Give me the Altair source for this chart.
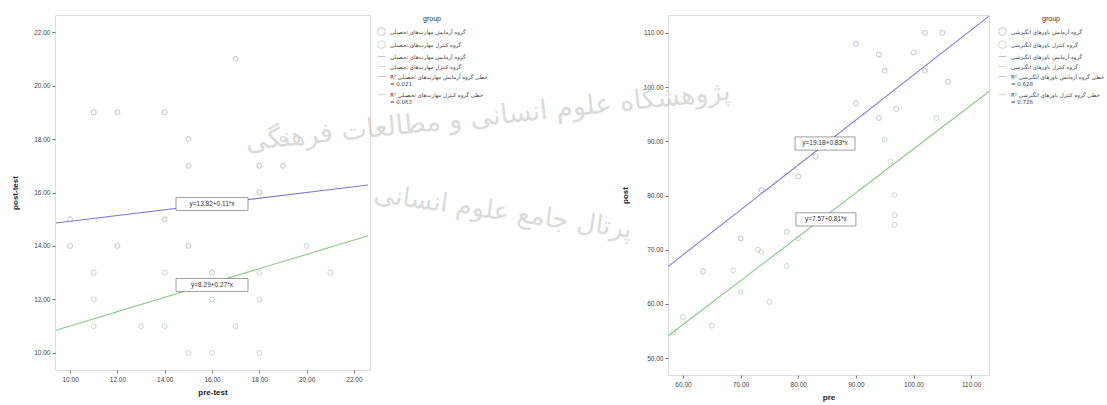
import altair as alt
import pandas as pd

# ---------------- left panel data ----------------
L_GA = "گروه آزمایش مهارت‌های تحصیلی"
L_GB = "گروه کنترل مهارت‌های تحصیلی"
L_ENTRIES = [L_GA, L_GB, L_GA + "\u200c", L_GB + "\u200c",
             "R² خطی " + L_GA + "|= 0.021", "R² خطی " + L_GB + "|= 0.063"]

L_XA = [17, 11, 12, 14, 15, 15, 18, 19, 19, 14, 10, 18, 10, 12, 15, 16]
L_YA = [21, 19, 19, 19, 18, 17, 17, 17, 18, 15, 15, 16, 14, 14, 14, 13]
L_XB = [21, 18, 11, 14, 11, 16, 18, 11, 13, 14, 17, 15, 16, 18, 20]
L_YB = [13, 13, 13, 13, 12, 12, 12, 11, 11, 11, 11, 10, 10, 10, 14]

L_LINE_X = [9.4, 22.6, 9.4, 22.6]
L_LINE_Y = [14.86, 16.28, 10.85, 14.38]
L_LINE_G = [L_ENTRIES[2], L_ENTRIES[2], L_ENTRIES[3], L_ENTRIES[3]]

L_LAB_X = [16.0, 16.0]
L_LAB_Y = [15.57, 12.54]
L_LAB_T = ["y=13.82+0.11*x", "y=8.29+0.27*x"]

L_TICKS = [10, 12, 14, 16, 18, 20, 22]

# ---------------- right panel data ----------------
R_GA = "گروه آزمایش باورهای انگیزشی"
R_GB = "گروه کنترل باورهای انگیزشی"
R_ENTRIES = [R_GA, R_GB, R_GA + "\u200c", R_GB + "\u200c",
             "R² خطی " + R_GA + "|= 0.628", "R² خطی " + R_GB + "|= 0.726"]

R_XA = [102, 105, 90, 94, 100, 95, 102, 106, 90, 97, 94, 83, 80, 73.6, 70, 63.5]
R_YA = [110, 110, 108, 106, 106.4, 103, 103, 101, 97, 96, 94.3, 87.2, 83.5, 81, 72.1, 66]
R_XB = [104, 95, 96, 96.7, 96.7, 96.7, 80, 78, 73, 78, 68.7, 70, 75, 60, 65, 58.3, 73.6]
R_YB = [94.3, 90.3, 86.3, 80.1, 76.4, 74.6, 72.1, 73.3, 70, 67, 66.2, 62.2, 60.4, 57.6, 56, 54.8, 69.6]

R_LINE_X = [57.4, 113.1, 57.4, 113.1]
R_LINE_Y = [66.9, 113.1, 54.1, 99.2]
R_LINE_G = [R_ENTRIES[2], R_ENTRIES[2], R_ENTRIES[3], R_ENTRIES[3]]

R_LAB_X = [84.65, 84.8]
R_LAB_Y = [89.6, 75.6]
R_LAB_T = ["y=19.18+0.83*x", "y=7.57+0.81*x"]

R_XTICKS = [60, 70, 80, 90, 100, 110]
R_YTICKS = [50, 60, 70, 80, 90, 100, 110]

# watermark text (decorative overlay of the source image)
WM_TEXT = ["پژوهشگاه علوم انسانی و مطالعات فرهنگی", "پرتال جامع علوم انسانی"]
WM_ID = [1, 2]

COLORS = ["#8e8ea6", "#9fb29f", "#7f7fcc", "#8cc68c", "#7f7fcc", "#8cc68c"]
SHAPES = ["circle", "circle", "stroke", "stroke", "stroke", "stroke"]
FONT = "Liberation Sans"


def legend():
    return alt.Legend(
        title="group", titleFontSize=7, titleFont=FONT, titleFontWeight="normal",
        titleAnchor="middle", labelFontSize=5.5, labelFont="DejaVu Sans",
        labelColor="#444", titleColor="#333",
        labelExpr="split(datum.label, '|')", symbolSize=60, symbolStrokeWidth=0.8,
        rowPadding=2, offset=6, labelLimit=200, orient="right",
    )


def panel(xa, ya, xb, yb, entries, lx, ly, lg, tx, ty, tt, xdom, ydom,
          xticks, yticks, xtitle, ytitle, w, h, box_path, box_size, extra=None):
    pts = pd.DataFrame({
        "x": xa + xb,
        "y": ya + yb,
        "g": [entries[0]] * len(xa) + [entries[1]] * len(xb),
    })
    lines = pd.DataFrame({"x": lx, "y": ly, "g": lg})
    labs = pd.DataFrame({"x": tx, "y": ty, "t": tt})

    xs = alt.Scale(domain=xdom, nice=False, zero=False)
    ys = alt.Scale(domain=ydom, nice=False, zero=False)
    xax = alt.Axis(values=xticks, format=".2f", title=xtitle, grid=False, domain=False,
                   tickSize=3, tickColor="#777", labelFontSize=6.5, labelColor="#444",
                   labelFont=FONT, titleFont=FONT, titleFontSize=8, titleFontWeight="bold",
                   titleColor="#222", labelPadding=3, titlePadding=6)
    yax = alt.Axis(values=yticks, format=".2f", title=ytitle, grid=False, domain=False,
                   tickSize=3, tickColor="#777", labelFontSize=6.5, labelColor="#444",
                   labelFont=FONT, titleFont=FONT, titleFontSize=8, titleFontWeight="bold",
                   titleColor="#222", labelPadding=2, titlePadding=14)
    cscale = alt.Scale(domain=entries, range=COLORS)
    sscale = alt.Scale(domain=entries, range=SHAPES)

    p = alt.Chart(pts).mark_point(size=24, strokeWidth=0.9, opacity=0.6).encode(
        x=alt.X("x:Q", scale=xs, axis=xax),
        y=alt.Y("y:Q", scale=ys, axis=yax),
        color=alt.Color("g:N", scale=cscale, legend=legend()),
        shape=alt.Shape("g:N", scale=sscale, legend=legend()),
    )
    ln = alt.Chart(lines).mark_line(strokeWidth=1.1).encode(
        x=alt.X("x:Q", scale=xs),
        y=alt.Y("y:Q", scale=ys),
        color=alt.Color("g:N", scale=cscale, legend=legend()),
    )
    box = alt.Chart(labs).mark_point(
        shape=box_path, size=box_size, filled=True, fill="white", stroke="#777",
        strokeWidth=0.7, opacity=1,
    ).encode(x=alt.X("x:Q", scale=xs), y=alt.Y("y:Q", scale=ys))
    txt = alt.Chart(labs).mark_text(fontSize=6.5, font=FONT, color="#333").encode(
        x=alt.X("x:Q", scale=xs), y=alt.Y("y:Q", scale=ys), text="t:N"
    )
    layers = [p, ln, box, txt]
    if extra is not None:
        layers += extra
    return alt.layer(*layers).properties(width=w, height=h)


wm_df = pd.DataFrame({"t": WM_TEXT, "id": WM_ID})
wm1 = alt.Chart(wm_df).transform_filter("datum.id == 1").mark_text(
    font="DejaVu Sans", fontSize=27, color="#c4c4c4", opacity=0.6, angle=354
).encode(text="t:N", x=alt.value(-180), y=alt.value(102))
wm2 = alt.Chart(wm_df).transform_filter("datum.id == 2").mark_text(
    font="DejaVu Sans", fontSize=26, color="#c4c4c4", opacity=0.6, angle=8
).encode(text="t:N", x=alt.value(-165), y=alt.value(197))

left = panel(L_XA, L_YA, L_XB, L_YB, L_ENTRIES, L_LINE_X, L_LINE_Y, L_LINE_G,
             L_LAB_X, L_LAB_Y, L_LAB_T, [9.36, 22.68], [9.36, 22.64],
             L_TICKS, L_TICKS, "pre-test", "post-test", 315, 355,
             "M-1,-0.18H1V0.18H-1Z", 5184)
right = panel(R_XA, R_YA, R_XB, R_YB, R_ENTRIES, R_LINE_X, R_LINE_Y, R_LINE_G,
              R_LAB_X, R_LAB_Y, R_LAB_T, [57.4, 113.1], [46.9, 113.3],
              R_XTICKS, R_YTICKS, "pre", "post", 321, 360,
              "M-1,-0.22H1V0.22H-1Z", 3600, extra=[wm1, wm2])

chart = alt.hconcat(left, right, spacing=298, bounds="flush").resolve_scale(
    color="independent", shape="independent", x="independent", y="independent"
).resolve_legend(color="independent", shape="independent").properties(
    padding={"left": 11, "top": 13, "right": 0, "bottom": 0}
).configure_view(fill="#f3f3f3", stroke="#9a9a9a", strokeWidth=1
).configure(background="white")

chart.save("out.html", embed_options={"renderer": "svg", "actions": False})
